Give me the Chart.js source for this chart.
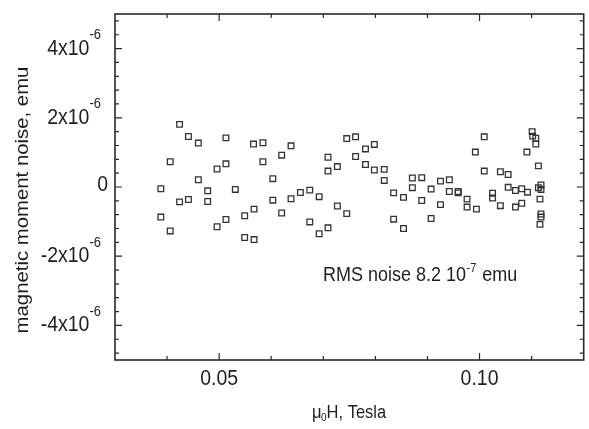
<!DOCTYPE html>
<html>
<head>
<meta charset="utf-8">
<script src="https://cdn.jsdelivr.net/npm/chart.js@4.4.0/dist/chart.umd.min.js"></script>
<style>
  html, body { margin: 0; padding: 0; background: #fff; }
  #wrap { width: 589px; height: 429px; }
</style>
</head>
<body>
<div id="wrap"><canvas id="noiseChart" width="589" height="429"></canvas></div>
<script>
// field in Tesla, noise in units of 10^-6 emu
const fieldT = [
  0.0388, 0.0388, 0.0406, 0.0406, 0.0424, 0.0424, 0.0441, 0.0441, 0.0460, 0.0460,
  0.0478, 0.0478, 0.0496, 0.0496, 0.0513, 0.0513, 0.0513, 0.0531, 0.0549, 0.0549,
  0.0566, 0.0567, 0.0567, 0.0584, 0.0584, 0.0603, 0.0603, 0.0620, 0.0620, 0.0638,
  0.0638, 0.0656, 0.0674, 0.0674, 0.0692, 0.0692, 0.0709, 0.0709, 0.0709, 0.0727,
  0.0727, 0.0745, 0.0745, 0.0762, 0.0762,
  0.0781, 0.0781, 0.0798, 0.0798, 0.0817, 0.0817, 0.0835, 0.0835, 0.0854, 0.0854,
  0.0871, 0.0871, 0.0889, 0.0889, 0.0907, 0.0907, 0.0925, 0.0925, 0.0942, 0.0942,
  0.0959, 0.0959, 0.0976, 0.0976, 0.0992, 0.0994, 0.1009, 0.1009, 0.1025, 0.1025,
  0.1040, 0.1040, 0.1055, 0.1055, 0.1069, 0.1069, 0.1081, 0.1081, 0.1091, 0.1092,
  0.1101, 0.1102, 0.1108, 0.1108, 0.1113, 0.1113, 0.1116, 0.1116, 0.1118, 0.1118,
  0.1118, 0.1118
];
const noiseE6 = [
  -0.05, -0.87, 0.73, -1.27, 1.81, -0.43, 1.46, -0.36, 1.27, 0.21,
  -0.11, -0.42, 0.52, -1.15, 1.42, 0.67, -0.94, -0.07, -0.83, -1.46,
  1.24, -0.64, -1.52, 1.28, 0.73, 0.24, -0.38, 0.92, -0.75, 1.19,
  -0.34, -0.16, -0.09, -1.01, -0.28, -1.35, 0.86, 0.46, -1.18, 0.59,
  -0.55, 1.40, -0.77, 1.45, 0.88,
  1.10, 0.65, 1.23, 0.49, 0.51, 0.19, -0.17, -0.93, -0.30, -1.20,
  0.26, -0.02, 0.27, -0.39, -0.06, -0.91, 0.17, -0.51, 0.21, -0.13,
  -0.13, -0.17, -0.35, -0.58, 1.01, -0.64, 1.45, 0.46, -0.18, -0.32,
  0.44, -0.54, 0.36, -0.01, -0.10, -0.58, -0.05, -0.47, 1.01, -0.15,
  1.60, 1.47, 1.41, 1.24, 0.61, -0.02, -0.35, -1.08, 0.06, -0.07,
  -0.78, -0.87
];

const xMinorTicks = [0.04, 0.05, 0.06, 0.07, 0.08, 0.09, 0.10, 0.11];
const xMajorTicks = [0.05, 0.10];
const xTickLabels = ['0.05', '0.10'];
const yMinorTicks = Array.from({ length: 25 }, (_, i) => Math.round((i - 12) * 4) / 10);
const yMajorTicks = [4, 2, 0, -2, -4];
const yTickLabels = [['4x10', '-6'], ['2x10', '-6'], ['0', ''], ['-2x10', '-6'], ['-4x10', '-6']];

const FONT = '"Liberation Sans", Arial, sans-serif';
const INK = '#1e1e1e';
const STRETCH = 1.13;

function drawText(ctx, str, x, y, size, sx, sy) {
  ctx.save();
  ctx.translate(x, y);
  ctx.scale(sx, sy);
  ctx.font = size + 'px ' + FONT;
  ctx.fillText(str, 0, 0);
  ctx.restore();
}

function textWidth(ctx, str, size) {
  ctx.font = size + 'px ' + FONT;
  return ctx.measureText(str).width;
}

const framePlugin = {
  id: 'frame',
  afterDatasetsDraw(chart) {
    const { ctx, chartArea: a, scales: { x, y } } = chart;
    ctx.save();
    ctx.strokeStyle = '#2a2a2a';
    ctx.lineWidth = 1.6;
    ctx.strokeRect(a.left, a.top, a.right - a.left, a.bottom - a.top);

    // inward ticks on all four sides
    ctx.lineWidth = 1.2;
    ctx.beginPath();
    y.ticks.forEach(t => {
      const py = y.getPixelForValue(t.value);
      const len = yMajorTicks.includes(t.value) ? 7 : 4;
      ctx.moveTo(a.left, py); ctx.lineTo(a.left + len, py);
      ctx.moveTo(a.right, py); ctx.lineTo(a.right - len, py);
    });
    x.ticks.forEach(t => {
      const px = x.getPixelForValue(t.value);
      const len = xMajorTicks.some(v => Math.abs(v - t.value) < 1e-9) ? 7 : 4;
      ctx.moveTo(px, a.bottom); ctx.lineTo(px, a.bottom - len);
      ctx.moveTo(px, a.top); ctx.lineTo(px, a.top + len);
    });
    ctx.stroke();

    ctx.fillStyle = INK;
    ctx.textAlign = 'left';
    ctx.textBaseline = 'alphabetic';

    // y tick labels
    yMajorTicks.forEach((v, i) => {
      const py = y.getPixelForValue(v);
      const [base, sup] = yTickLabels[i];
      const wb = textWidth(ctx, base, 19.5);
      if (sup) {
        const ws = textWidth(ctx, sup, 13);
        const x0 = 101 - ws - wb;
        drawText(ctx, base, x0, py + 6, 19.5, 1, STRETCH);
        drawText(ctx, sup, x0 + wb, py - 9.5, 13, 1, STRETCH);
      } else {
        drawText(ctx, base, 108 - wb, py + 3.5, 19.5, 1, STRETCH);
      }
    });

    // x tick labels
    xMajorTicks.forEach((v, i) => {
      const px = x.getPixelForValue(v);
      const w = textWidth(ctx, xTickLabels[i], 19.5);
      drawText(ctx, xTickLabels[i], px - w / 2, 385, 19.5, 1, STRETCH);
    });

    // x axis title: mu0 H, Tesla
    const tSize = 16.5;
    const w1 = textWidth(ctx, '\u03bc', tSize);
    const w2 = textWidth(ctx, '0', 10);
    const w3 = textWidth(ctx, 'H, Tesla', tSize);
    let tx = (a.left + a.right) / 2 - (w1 + w2 + w3) / 2;
    drawText(ctx, '\u03bc', tx, 418, tSize, 1, STRETCH);
    drawText(ctx, '0', tx + w1 - 0.5, 421, 10, 1, STRETCH);
    drawText(ctx, 'H, Tesla', tx + w1 + w2 - 0.5, 418, tSize, 1, STRETCH);

    // y axis title
    ctx.save();
    ctx.translate(28, 200);
    ctx.rotate(-Math.PI / 2);
    ctx.textAlign = 'center';
    drawText(ctx, 'magnetic moment noise, emu', 0, 0, 18, STRETCH, 1);
    ctx.restore();

    // annotation
    const aSize = 18;
    const p1 = 'RMS noise 8.2 10';
    const wp1 = textWidth(ctx, p1, aSize);
    const wp2 = textWidth(ctx, '-7', 11);
    drawText(ctx, p1, 323, 281, aSize, 1, STRETCH);
    drawText(ctx, '-7', 323 + wp1 + 0.5, 272, 11, 1, STRETCH);
    drawText(ctx, ' emu', 323 + wp1 + wp2 + 1.5, 281, aSize, 1, STRETCH);
    ctx.restore();
  }
};

new Chart(document.getElementById('noiseChart'), {
  type: 'scatter',
  data: {
    datasets: [{
      data: fieldT.map((v, i) => ({ x: v, y: noiseE6[i] })),
      pointStyle: 'rect',
      pointRadius: 4,
      borderWidth: 1.3,
      borderColor: '#333333',
      backgroundColor: 'rgba(255,255,255,0)'
    }]
  },
  options: {
    responsive: false,
    animation: false,
    devicePixelRatio: 1,
    layout: { padding: { left: 115, right: 4, top: 14, bottom: 69 } },
    plugins: { legend: { display: false }, tooltip: { enabled: false } },
    scales: {
      x: {
        type: 'linear', min: 0.03, max: 0.12,
        grid: { display: false }, border: { display: false },
        ticks: { display: false },
        afterBuildTicks: s => { s.ticks = xMinorTicks.map(v => ({ value: v })); },
        afterFit: s => { s.height = 0; }
      },
      y: {
        type: 'linear', min: -5, max: 5,
        grid: { display: false }, border: { display: false },
        ticks: { display: false },
        afterBuildTicks: s => { s.ticks = yMinorTicks.map(v => ({ value: v })); },
        afterFit: s => { s.width = 0; }
      }
    }
  },
  plugins: [framePlugin]
});
</script>
</body>
</html>
